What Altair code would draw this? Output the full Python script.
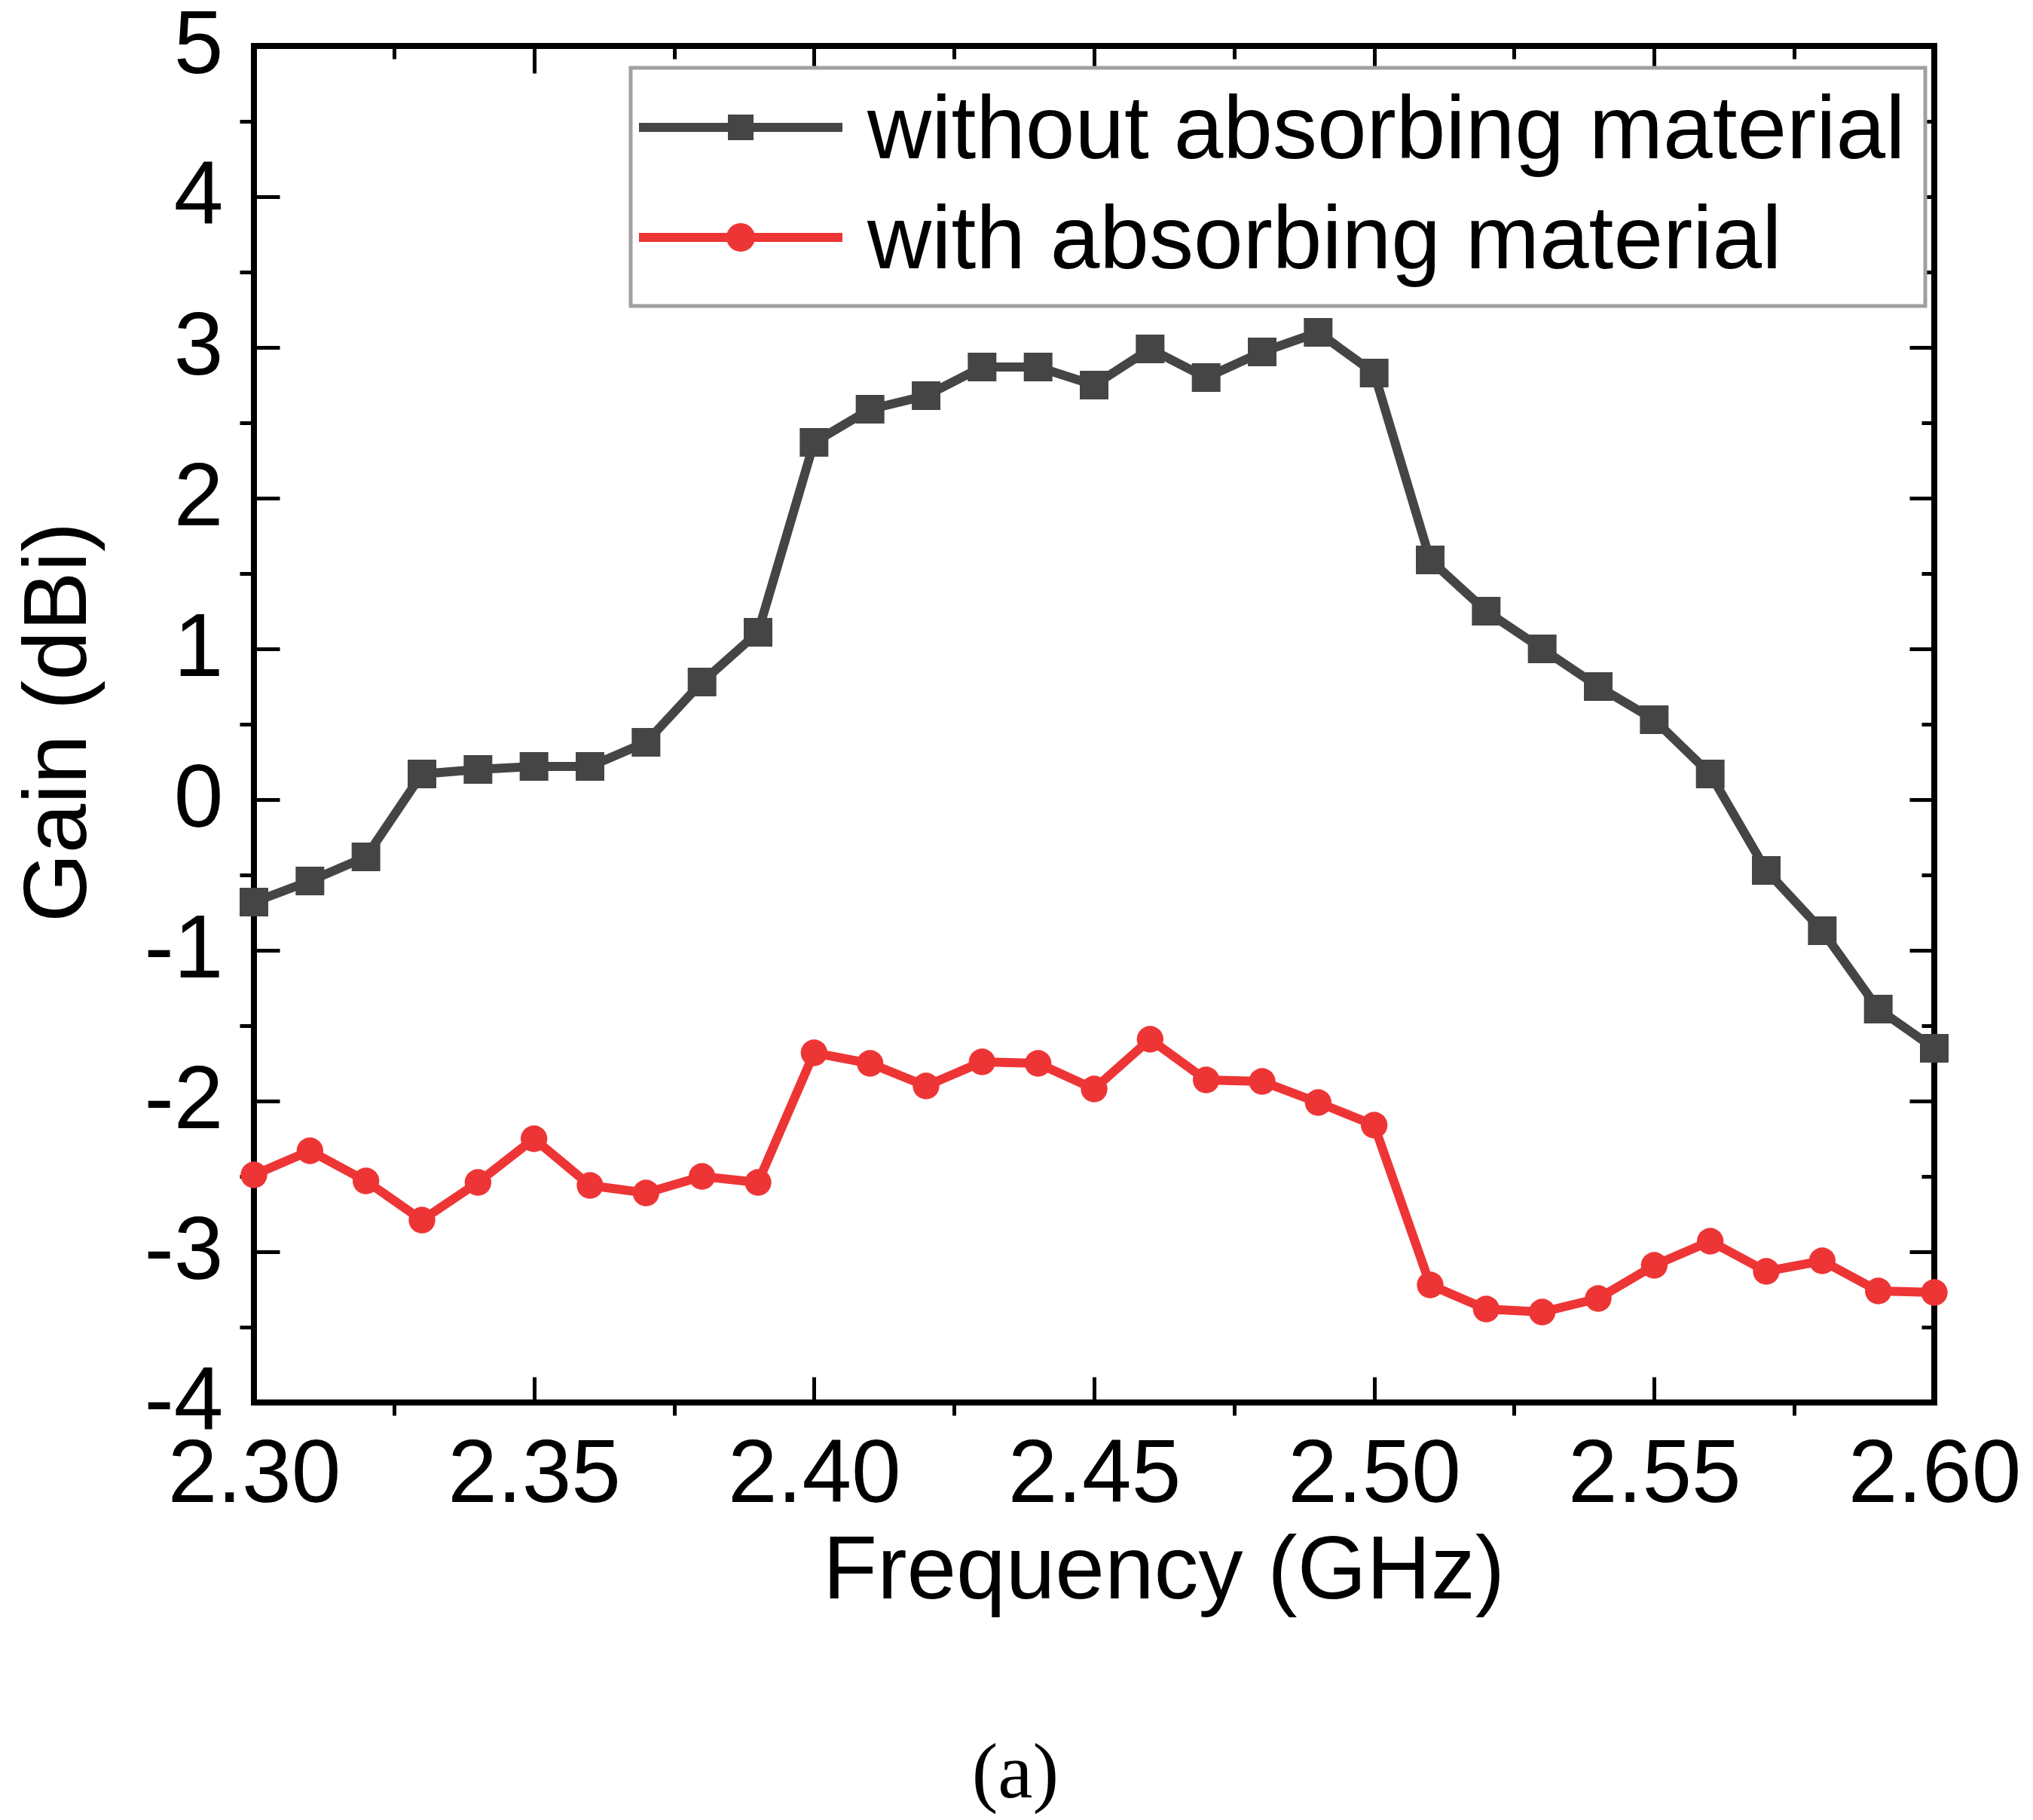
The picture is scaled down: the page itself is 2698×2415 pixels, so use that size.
import altair as alt
import pandas as pd

FONT = "Liberation Sans"

# frequency points (GHz)
freq = [2.30, 2.31, 2.32, 2.33, 2.34, 2.35, 2.36, 2.37, 2.38, 2.39, 2.40,
        2.41, 2.42, 2.43, 2.44, 2.45, 2.46, 2.47, 2.48, 2.49, 2.50,
        2.51, 2.52, 2.53, 2.54, 2.55, 2.56, 2.57, 2.58, 2.59, 2.60]

# gain (dBi)
gain_without = [-0.68, -0.54, -0.38, 0.17, 0.20, 0.22, 0.22, 0.38, 0.78, 1.11, 2.37,
                2.59, 2.68, 2.87, 2.87, 2.75, 2.99, 2.80, 2.97, 3.10, 2.83,
                1.59, 1.25, 1.00, 0.75, 0.53, 0.17, -0.47, -0.87, -1.39, -1.65]
gain_with = [-2.49, -2.33, -2.53, -2.79, -2.54, -2.25, -2.56, -2.61, -2.50, -2.54, -1.68,
             -1.75, -1.90, -1.74, -1.75, -1.92, -1.59, -1.86, -1.87, -2.01, -2.16,
             -3.22, -3.38, -3.40, -3.31, -3.09, -2.93, -3.13, -3.06, -3.26, -3.27]

series_names = ["without absorbing material", "with absorbing material"]
series_colors = ["#454545", "#EE3535"]

x_major = [2.30, 2.35, 2.40, 2.45, 2.50, 2.55, 2.60]
x_minor = [2.325, 2.375, 2.425, 2.475, 2.525, 2.575]
y_major = [-4, -3, -2, -1, 0, 1, 2, 3, 4, 5]
y_minor = [-3.5, -2.5, -1.5, -0.5, 0.5, 1.5, 2.5, 3.5, 4.5]

df = pd.DataFrame({
    "freq": freq * 2,
    "gain": gain_without + gain_with,
    "series": [series_names[0]] * len(freq) + [series_names[1]] * len(freq),
})

x_scale = alt.Scale(domain=[2.3, 2.6], nice=False, zero=False)
y_scale = alt.Scale(domain=[-4, 5], nice=False, zero=False)
color_scale = alt.Scale(domain=series_names, range=series_colors)

# legend symbols: line segment with the marker on top (pixel units, symbolSize=4)
sym_line = "M-135,-12H135V0H-135Z"
sym_square = sym_line + " M-17,-23H17V11H-17Z"
sym_circle = sym_line + " M-19,-6A19,19 0 1,1 19,-6A19,19 0 1,1 -19,-6Z"

x_label_axis = alt.Axis(
    orient="bottom", values=x_major, format=".2f", labelFontSize=118,
    labelPadding=38, labelFlush=False, labelOverlap=False, labelLimit=1000,
    ticks=False, tickSize=0, domain=False, grid=False,
    title="Frequency (GHz)", titleFontSize=118, titleFontWeight="normal",
    titleX=1207, titleY=166, titleBaseline="top",
)
y_label_axis = alt.Axis(
    orient="left", values=y_major, labelExpr="'' + datum.value", labelFontSize=118,
    labelPadding=41, labelFlush=False, labelOverlap=False, labelLimit=1000,
    ticks=False, tickSize=0, domain=False, grid=False,
    title="Gain (dBi)", titleFontSize=118, titleFontWeight="normal",
    titleX=-199, titleY=897,
)


def tick_axis(orient, values, size, inward):
    return alt.Axis(orient=orient, values=values, labels=False, domain=False, grid=False,
                    ticks=True, tickSize=size, tickWidth=5, tickColor="black",
                    offset=-size if inward else 0, title=None)


def tick_layer(x_axis, y_axis):
    return alt.Chart(df).mark_point(opacity=0).encode(
        x=alt.X("freq:Q", scale=x_scale, axis=x_axis),
        y=alt.Y("gain:Q", scale=y_scale, axis=y_axis),
    )


legend = alt.Legend(
    orient="none", legendX=500, legendY=29, title=None, direction="vertical",
    padding=26, rowPadding=28, symbolSize=4, symbolOffset=61, labelOffset=109,
    symbolStrokeWidth=0, strokeColor="#A0A0A0", fillColor="white",
)

# empty layer that only carries the legend (line + marker symbols); first so its legend wins
legend_layer = alt.Chart(df).transform_filter("false").mark_point(filled=True, opacity=1).encode(
    x=alt.X("freq:Q", scale=x_scale, axis=None),
    y=alt.Y("gain:Q", scale=y_scale, axis=None),
    color=alt.Color("series:N", scale=color_scale, legend=legend),
    shape=alt.Shape("series:N", scale=alt.Scale(domain=series_names, range=[sym_square, sym_circle]),
                    legend=legend),
)

lines = alt.Chart(df).mark_line(strokeWidth=12).encode(
    x=alt.X("freq:Q", scale=x_scale, axis=x_label_axis),
    y=alt.Y("gain:Q", scale=y_scale, axis=y_label_axis),
    color=alt.Color("series:N", scale=color_scale, legend=legend),
)

points_without = alt.Chart(df).transform_filter(
    alt.datum.series == series_names[0]
).mark_point(shape="square", filled=True, opacity=1, size=1444, color=series_colors[0]).encode(
    x=alt.X("freq:Q", scale=x_scale, axis=tick_axis("bottom", x_major, 34, True)),
    y=alt.Y("gain:Q", scale=y_scale, axis=tick_axis("left", y_major, 34, True)),
)

points_with = alt.Chart(df).transform_filter(
    alt.datum.series == series_names[1]
).mark_point(shape="circle", filled=True, opacity=1, size=1250, color=series_colors[1]).encode(
    x=alt.X("freq:Q", scale=x_scale, axis=None),
    y=alt.Y("gain:Q", scale=y_scale, axis=None),
)

chart = alt.layer(
    legend_layer,
    lines,
    points_without,
    points_with,
    tick_layer(tick_axis("bottom", x_minor, 17, False), tick_axis("left", y_minor, 19, False)),
    tick_layer(tick_axis("top", x_major, 36, True), tick_axis("right", y_major, 33, True)),
    tick_layer(tick_axis("top", x_minor, 17, True), tick_axis("right", y_minor, 17, True)),
).resolve_axis(
    x="independent", y="independent"
).properties(
    width=2230,
    height=1800,
    autosize=alt.AutoSizeParams(type="none"),
    padding={"left": 329, "top": 53, "right": 123, "bottom": 546},
    background="white",
    title=alt.TitleParams(
        "(a)", orient="bottom", anchor="middle", frame="bounds",
        font="Liberation Serif", fontSize=104, fontWeight="normal",
        color="black", offset=159, dx=-3,
    ),
).configure_view(
    stroke="black", strokeWidth=8
).configure_axis(
    labelFont=FONT, titleFont=FONT, labelColor="black", titleColor="black", grid=False
).configure_legend(
    labelFont=FONT, labelFontSize=118, labelColor="black", labelLimit=0, strokeWidth=5
)

chart.save("out.html", embed_options={"renderer": "svg", "actions": False})
